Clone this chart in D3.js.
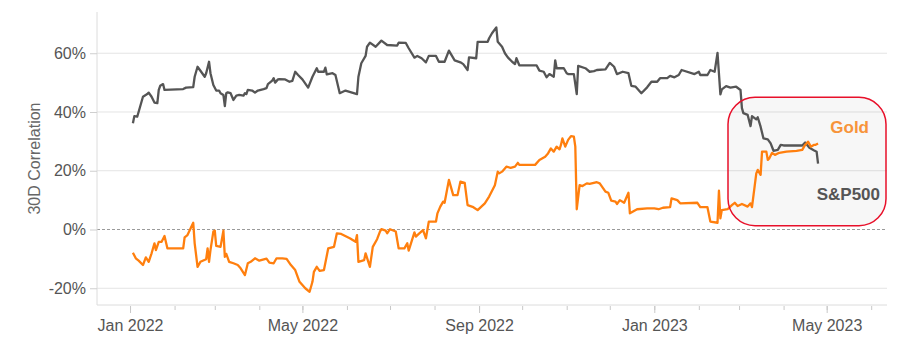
<!DOCTYPE html>
<html lang="en">
<meta charset="utf-8">
<head>
    <script src='https://d3js.org/d3.v7.min.js'></script>
    <style>
        body { margin: 0; background: #fff; }
        text { font-family: "Liberation Sans", Arial, sans-serif; }
    </style>
</head>
<body>
</body>

<script>

// S&P500 30D correlation (percent)
const spxDates = ["2022-01-03","2022-01-04","2022-01-06","2022-01-08","2022-01-10","2022-01-13","2022-01-14","2022-01-16","2022-01-18","2022-01-20",
    "2022-01-21","2022-01-22","2022-01-24","2022-01-25","2022-02-07","2022-02-09","2022-02-14","2022-02-15","2022-02-17","2022-02-22",
    "2022-02-23","2022-02-25","2022-02-26","2022-02-28","2022-03-02","2022-03-04","2022-03-05","2022-03-07","2022-03-08","2022-03-09",
    "2022-03-10","2022-03-12","2022-03-14","2022-03-16","2022-03-18","2022-03-21","2022-03-22","2022-03-23","2022-03-24","2022-03-27",
    "2022-03-29","2022-03-31","2022-04-04","2022-04-06","2022-04-07","2022-04-10","2022-04-11","2022-04-12","2022-04-14","2022-04-15",
    "2022-04-19","2022-04-22","2022-04-24","2022-04-26","2022-04-28","2022-05-01","2022-05-05","2022-05-08","2022-05-11","2022-05-12",
    "2022-05-16","2022-05-17","2022-05-18","2022-05-22","2022-05-24","2022-05-27","2022-05-31","2022-06-08","2022-06-09","2022-06-11",
    "2022-06-14","2022-06-15","2022-06-17","2022-06-21","2022-06-25","2022-06-29","2022-07-06","2022-07-07","2022-07-12","2022-07-14",
    "2022-07-18","2022-07-20","2022-07-23","2022-07-26","2022-07-28","2022-08-02","2022-08-04","2022-08-08","2022-08-11","2022-08-15",
    "2022-08-19","2022-08-21","2022-08-24","2022-08-25","2022-08-30","2022-08-31","2022-09-07","2022-09-08","2022-09-10","2022-09-13",
    "2022-09-14","2022-09-17","2022-09-19","2022-09-21","2022-09-24","2022-09-26","2022-09-27","2022-09-29","2022-10-11","2022-10-13",
    "2022-10-16","2022-10-18","2022-10-20","2022-10-23","2022-10-24","2022-10-25","2022-10-30","2022-11-01","2022-11-02","2022-11-06",
    "2022-11-08","2022-11-09","2022-11-14","2022-11-17","2022-11-20","2022-11-22","2022-11-28","2022-12-01","2022-12-04","2022-12-06",
    "2022-12-10","2022-12-14","2022-12-16","2022-12-19","2022-12-23","2022-12-27","2022-12-30","2023-01-03","2023-01-05","2023-01-10",
    "2023-01-12","2023-01-15","2023-01-18","2023-01-20","2023-01-29","2023-02-01","2023-02-02","2023-02-07","2023-02-09","2023-02-12",
    "2023-02-14","2023-02-16","2023-02-17","2023-02-20","2023-02-23","2023-02-27","2023-03-02","2023-03-03","2023-03-04","2023-03-07",
    "2023-03-09","2023-03-10","2023-03-13","2023-03-14","2023-03-16","2023-03-18","2023-03-21","2023-03-23","2023-03-25","2023-03-28",
    "2023-03-30","2023-04-01","2023-04-08","2023-04-14","2023-04-16","2023-04-19","2023-04-22","2023-04-24","2023-04-25"];
const spxValues = [36.2,38.6,38.4,41.8,45.2,46.1,46.6,45.2,43.2,43.0,
    47.5,48.9,49.5,47.5,47.8,48.3,48.5,52.0,55.4,52.0,
    53.2,57.1,53.2,49.2,47.3,47.3,46.4,45.8,42.0,46.4,
    46.7,46.4,44.1,45.6,45.8,45.6,46.4,46.1,47.5,47.3,
    46.6,47.3,47.8,48.1,49.5,50.7,51.5,50.0,51.1,51.2,
    51.1,50.3,50.6,53.7,52.6,51.1,48.3,52.0,54.9,53.7,
    53.7,55.1,52.8,53.2,52.6,46.4,47.3,46.1,52.0,56.6,
    59.1,62.2,63.6,62.2,64.3,62.8,62.6,63.6,63.5,61.7,
    58.5,59.1,58.3,56.9,59.1,59.1,57.1,57.1,60.9,57.6,
    56.9,56.3,54.3,58.6,58.3,63.9,63.9,65.1,66.8,68.8,
    63.9,62.2,60.0,58.6,57.1,56.3,58.3,55.9,55.9,54.1,
    53.7,51.8,52.9,52.0,57.6,54.9,54.9,53.2,52.9,52.9,
    46.1,55.7,54.9,53.7,53.9,54.3,54.5,56.7,55.4,52.9,
    53.7,53.2,48.9,48.6,46.4,48.4,50.3,50.3,51.5,51.5,
    52.3,51.8,52.6,54.3,52.9,53.7,52.6,52.6,54.3,53.7,
    60.1,46.0,47.7,48.8,48.3,48.6,47.5,41.3,39.6,39.0,
    35.2,38.6,37.5,38.2,35.0,31.0,30.7,29.3,26.8,27.1,
    28.8,28.6,28.6,28.6,29.6,27.8,27.0,26.5,22.4];

// Gold 30D correlation (percent)
const goldDates = ["2022-01-03","2022-01-05","2022-01-07","2022-01-10","2022-01-12","2022-01-14","2022-01-16","2022-01-18","2022-01-19","2022-01-21",
    "2022-01-23","2022-01-25","2022-01-27","2022-02-07","2022-02-08","2022-02-10","2022-02-14","2022-02-15","2022-02-17","2022-02-19",
    "2022-02-23","2022-02-24","2022-02-25","2022-02-26","2022-02-28","2022-03-01","2022-03-02","2022-03-05","2022-03-07","2022-03-08",
    "2022-03-09","2022-03-11","2022-03-14","2022-03-17","2022-03-19","2022-03-22","2022-03-24","2022-03-26","2022-03-29","2022-04-01",
    "2022-04-06","2022-04-08","2022-04-11","2022-04-13","2022-04-17","2022-04-20","2022-04-23","2022-04-26","2022-04-29","2022-05-03",
    "2022-05-06","2022-05-08","2022-05-09","2022-05-11","2022-05-13","2022-05-16","2022-05-19","2022-05-23","2022-05-25","2022-05-28",
    "2022-06-03","2022-06-07","2022-06-08","2022-06-09","2022-06-13","2022-06-14","2022-06-17","2022-06-19","2022-06-22","2022-06-24",
    "2022-06-25","2022-06-28","2022-06-29","2022-07-01","2022-07-05","2022-07-07","2022-07-11","2022-07-13","2022-07-14","2022-07-18",
    "2022-07-19","2022-07-21","2022-07-24","2022-07-26","2022-07-28","2022-08-02","2022-08-03","2022-08-05","2022-08-07","2022-08-08",
    "2022-08-11","2022-08-14","2022-08-17","2022-08-19","2022-08-22","2022-08-24","2022-08-28","2022-08-31","2022-09-05","2022-09-08",
    "2022-09-12","2022-09-14","2022-09-15","2022-09-17","2022-09-20","2022-09-23","2022-09-26","2022-09-28","2022-09-29","2022-10-10",
    "2022-10-13","2022-10-17","2022-10-19","2022-10-21","2022-10-23","2022-10-25","2022-10-27","2022-10-28","2022-10-29","2022-10-31",
    "2022-11-02","2022-11-04","2022-11-06","2022-11-07","2022-11-08","2022-11-10","2022-11-12","2022-11-15","2022-11-17","2022-11-22",
    "2022-11-24","2022-11-28","2022-11-30","2022-12-02","2022-12-05","2022-12-06","2022-12-08","2022-12-11","2022-12-14","2022-12-15",
    "2022-12-20","2022-12-27","2023-01-01","2023-01-04","2023-01-07","2023-01-12","2023-01-13","2023-01-17","2023-01-19","2023-01-31",
    "2023-02-02","2023-02-07","2023-02-09","2023-02-14","2023-02-15","2023-02-16","2023-02-17","2023-02-21","2023-02-24","2023-02-26",
    "2023-02-28","2023-03-03","2023-03-07","2023-03-09","2023-03-10","2023-03-13","2023-03-14","2023-03-16","2023-03-17","2023-03-20",
    "2023-03-21","2023-03-22","2023-03-24","2023-03-26","2023-03-29","2023-04-03","2023-04-10","2023-04-14","2023-04-16","2023-04-18",
    "2023-04-20","2023-04-22","2023-04-23","2023-04-25"];
const goldValues = [-7.9,-9.8,-10.6,-12.1,-9.5,-11.0,-8.1,-4.7,-7.0,-4.2,
    -4.2,-2.2,-6.4,-6.4,-2.7,-1.9,2.3,-4.7,-12.7,-11.0,
    -10.1,-6.4,-11.0,-7.0,-0.7,-0.4,-5.6,-5.9,-0.4,-9.3,
    -8.3,-11.0,-11.5,-12.1,-13.2,-15.5,-11.5,-11.0,-9.8,-10.6,
    -9.9,-11.3,-11.5,-9.8,-9.8,-10.0,-12.1,-13.8,-17.8,-20.0,
    -21.2,-17.8,-14.4,-12.7,-14.1,-13.8,-6.4,-5.9,-1.3,-1.5,
    -3.0,-4.2,-1.9,-11.0,-10.4,-8.1,-12.7,-5.9,-3.3,-0.7,
    0.1,-0.4,-1.3,0.1,-0.7,-6.4,-6.4,-4.7,-7.2,-1.0,
    -2.4,-1.5,-0.2,-3.0,2.7,2.7,5.5,7.8,9.5,9.1,
    16.9,11.7,11.7,16.3,15.9,8.3,7.6,6.6,8.9,11.2,
    15.1,19.7,19.1,19.7,21.4,21.0,21.4,22.7,22.0,22.0,
    23.7,24.8,25.9,27.6,26.5,28.2,27.3,28.8,31.0,28.2,
    30.5,31.8,31.6,28.2,6.9,15.1,14.8,15.7,15.5,16.1,
    15.7,12.9,12.5,9.8,9.5,8.7,10.0,9.1,12.5,5.5,
    6.9,7.2,7.2,6.9,7.4,7.6,10.6,10.0,8.9,9.1,
    7.6,7.6,2.7,2.3,13.2,3.8,6.6,6.9,8.3,9.1,
    8.0,8.7,7.8,8.9,7.6,19.1,20.3,18.6,26.5,26.5,
    23.7,24.2,26.1,25.4,26.1,26.5,26.8,27.1,28.8,29.9,
    28.2,28.8,28.8,29.3];

const yTicks = [-20, 0, 20, 40, 60];
const xMajorTicks = ["2022-01-01","2022-05-01","2022-09-01","2023-01-01","2023-05-01"];

// highlight box round the last weeks
const boxStart = "2023-02-22";
const boxTop = 45.0, boxBottom = 1.3;

const width = 914, height = 352;
const plotLeft = 97, plotRight = 887, plotTop = 12, plotBottom = 305;

const parse = d3.utcParse("%Y-%m-%d");

const x = d3.scaleUtc()
    .domain([parse("2021-12-09"), parse("2023-06-12")])
    .range([plotLeft, plotRight]);

const y = d3.scaleLinear()
    .domain([-25.7, 74.04])
    .range([plotBottom, plotTop]);

const svg = d3.select("body")
    .append("svg")
    .attr("width", width)
    .attr("height", height);

// gridlines
svg.append("g")
    .selectAll("line")
    .data(yTicks)
    .join("line")
    .attr("x1", plotLeft)
    .attr("x2", plotRight)
    .attr("y1", d => y(d))
    .attr("y2", d => y(d))
    .attr("stroke", d => d === 0 ? "#9a9a9a" : "#e4e4e4")
    .attr("stroke-width", 1)
    .attr("stroke-dasharray", d => d === 0 ? "3,2" : null);

// frame: left and bottom
svg.append("line")
    .attr("x1", plotLeft).attr("x2", plotLeft)
    .attr("y1", plotTop).attr("y2", plotBottom)
    .attr("stroke", "#dcdcdc");
svg.append("line")
    .attr("x1", plotLeft).attr("x2", plotRight)
    .attr("y1", plotBottom).attr("y2", plotBottom)
    .attr("stroke", "#dcdcdc");

// y axis
const yAxis = svg.append("g")
    .attr("transform", `translate(${plotLeft},0)`)
    .call(d3.axisLeft(y).tickValues(yTicks).tickSize(7).tickPadding(4).tickFormat(d => d + "%"));
yAxis.select(".domain").remove();
yAxis.selectAll(".tick line").attr("stroke", "#cfcfcf");
yAxis.selectAll(".tick text")
    .attr("fill", "#555")
    .style("font-size", "16px")
    .style("font-family", "Liberation Sans, Arial, sans-serif");

// x axis: monthly minor ticks, labelled every 4 months
const xMinor = svg.append("g")
    .attr("transform", `translate(0,${plotBottom + 1})`)
    .call(d3.axisBottom(x).ticks(d3.utcMonth.every(1)).tickSize(4).tickFormat(""));
xMinor.select(".domain").remove();
xMinor.selectAll(".tick line").attr("stroke", "#c8c8c8");

const xAxis = svg.append("g")
    .attr("transform", `translate(0,${plotBottom + 1})`)
    .call(d3.axisBottom(x).tickValues(xMajorTicks.map(parse)).tickSize(7).tickPadding(7)
        .tickFormat(d3.utcFormat("%b %Y")));
xAxis.select(".domain").remove();
xAxis.selectAll(".tick line").attr("stroke", "#c8c8c8");
xAxis.selectAll(".tick text")
    .attr("fill", "#555")
    .style("font-size", "16px")
    .style("font-family", "Liberation Sans, Arial, sans-serif");

// y title
svg.append("text")
    .attr("transform", `translate(40,${(plotTop + plotBottom) / 2}) rotate(-90)`)
    .attr("text-anchor", "middle")
    .attr("fill", "#666")
    .style("font-size", "16px")
    .text("30D Correlation");

// highlight box fill (under lines)
const bx = x(parse(boxStart)) - 1, bw = plotRight - bx - 1;
svg.append("rect")
    .attr("x", bx).attr("y", y(boxTop))
    .attr("width", bw).attr("height", y(boxBottom) - y(boxTop))
    .attr("rx", 27).attr("ry", 27)
    .attr("fill", "rgba(0,0,0,0.03)")
    .attr("stroke", "none");

const line = d3.line()
    .x(d => x(d[0]))
    .y(d => y(d[1]));

const spx = spxDates.map((d, i) => [parse(d), spxValues[i]]);
const gold = goldDates.map((d, i) => [parse(d), goldValues[i]]);

svg.append("path")
    .datum(spx)
    .attr("d", line)
    .attr("fill", "none")
    .attr("stroke", "#555")
    .attr("stroke-width", 2.3)
    .attr("stroke-linejoin", "round");

svg.append("path")
    .datum(gold)
    .attr("d", line)
    .attr("fill", "none")
    .attr("stroke", "#ff7f0e")
    .attr("stroke-width", 2.3)
    .attr("stroke-linejoin", "round");

// highlight box outline and labels
svg.append("rect")
    .attr("x", bx).attr("y", y(boxTop))
    .attr("width", bw).attr("height", y(boxBottom) - y(boxTop))
    .attr("rx", 27).attr("ry", 27)
    .attr("fill", "none")
    .attr("stroke", "#e8102a")
    .attr("stroke-width", 1.5);

svg.append("text")
    .attr("x", 869).attr("y", 132.5)
    .attr("text-anchor", "end")
    .attr("fill", "#f7943a")
    .style("font-size", "17px")
    .style("font-weight", "bold")
    .text("Gold");

svg.append("text")
    .attr("x", 880).attr("y", 199.5)
    .attr("text-anchor", "end")
    .attr("fill", "#555")
    .style("font-size", "17px")
    .style("font-weight", "bold")
    .text("S&P500");

</script>
</html>
